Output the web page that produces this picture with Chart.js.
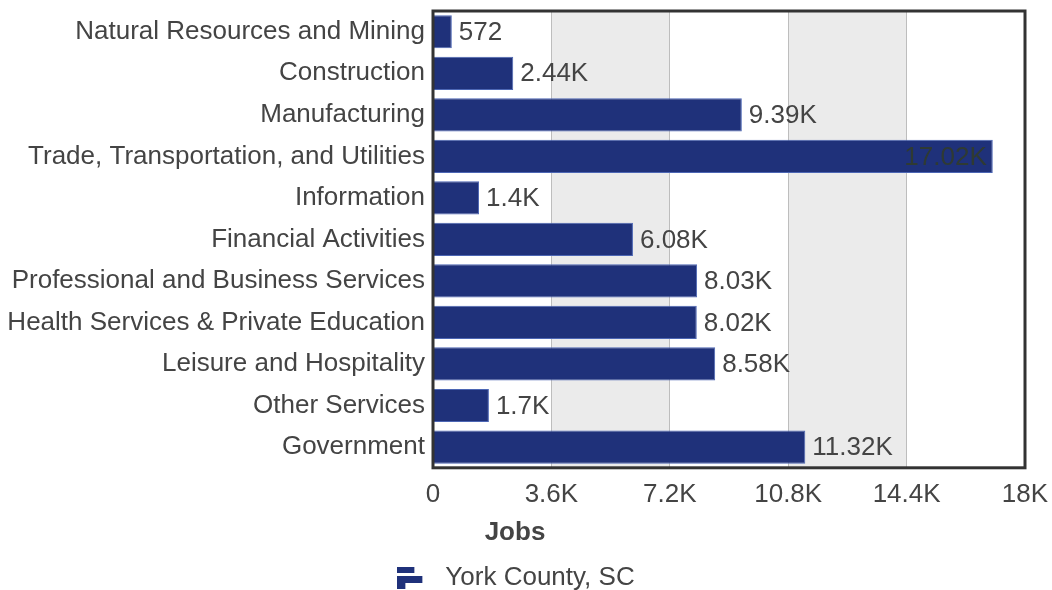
<!DOCTYPE html>
<html>
<head>
<meta charset="utf-8">
<script src="https://cdn.jsdelivr.net/npm/chart.js@4"></script>
<style>
  html, body { margin: 0; padding: 0; background: #fff; }
  #wrap { width: 1052px; height: 590px; position: relative; }
</style>
</head>
<body>
<div id="wrap"><canvas id="chart"></canvas></div>
<script>
// Jobs by industry, York County, SC
const industries = [
  'Natural Resources and Mining',
  'Construction',
  'Manufacturing',
  'Trade, Transportation, and Utilities',
  'Information',
  'Financial Activities',
  'Professional and Business Services',
  'Health Services & Private Education',
  'Leisure and Hospitality',
  'Other Services',
  'Government'
];
const jobs = [572, 2440, 9390, 17020, 1400, 6080, 8030, 8020, 8580, 1700, 11320];
const seriesName = 'York County, SC';
const axisTitle = 'Jobs';
const xMax = 18000;
const xStep = 3600;

const FONT = "'Liberation Sans', Arial, Helvetica, sans-serif";
const TEXT = '#444';
const BAR = '#1f317a';

function fmtK(v) {
  if (v < 1000) return String(v);
  return parseFloat((v / 1000).toFixed(2)) + 'K';
}

// small "bar chart" glyph for the legend (drawn off-centre on purpose)
function legendIcon() {
  const c = document.createElement('canvas');
  c.width = 33; c.height = 22;
  const g = c.getContext('2d');
  g.fillStyle = BAR;
  g.fillRect(0, 0, 17, 6);
  g.fillRect(0, 9, 25, 7);
  g.fillRect(0, 16, 8, 6);
  return c;
}

// alternate grey bands behind the grid
const bandsPlugin = {
  id: 'bands',
  beforeDraw(chart) {
    const { ctx, chartArea: a, scales: { x } } = chart;
    ctx.save();
    ctx.fillStyle = '#ebebeb';
    for (let v = xStep; v < xMax; v += xStep * 2) {
      const x0 = x.getPixelForValue(v);
      const x1 = x.getPixelForValue(Math.min(v + xStep, xMax));
      ctx.fillRect(x0, a.top, x1 - x0, a.bottom - a.top);
    }
    ctx.restore();
  }
};

// value labels at the end of each bar + the dark frame
const labelsPlugin = {
  id: 'valueLabels',
  afterDatasetsDraw(chart) {
    const { ctx, chartArea: a } = chart;
    const meta = chart.getDatasetMeta(0);
    ctx.save();
    ctx.font = '26px ' + FONT;
    ctx.textBaseline = 'middle';
    meta.data.forEach((bar, i) => {
      const txt = fmtK(jobs[i]);
      const w = ctx.measureText(txt).width;
      if (bar.x + 7 + w > a.right - 4) {
        ctx.textAlign = 'right';
        ctx.fillStyle = '#2f3a33';
        ctx.fillText(txt, bar.x - 6, bar.y + 1);
      } else {
        ctx.textAlign = 'left';
        ctx.fillStyle = TEXT;
        ctx.fillText(txt, bar.x + 7, bar.y + 1);
      }
    });
    ctx.strokeStyle = '#333';
    ctx.lineWidth = 3;
    ctx.strokeRect(a.left, a.top, a.right - a.left, a.bottom - a.top);
    ctx.restore();
  }
};

new Chart(document.getElementById('chart'), {
  type: 'bar',
  data: {
    labels: industries,
    datasets: [{
      label: seriesName,
      data: jobs,
      backgroundColor: BAR,
      borderColor: '#4c66b4',
      borderWidth: 1,
      barPercentage: 0.8,
      categoryPercentage: 1
    }]
  },
  options: {
    indexAxis: 'y',
    responsive: true,
    maintainAspectRatio: false,
    animation: false,
    layout: { padding: { left: 0, right: 22, top: 11, bottom: -11 } },
    scales: {
      x: {
        min: 0,
        max: xMax,
        ticks: {
          stepSize: xStep,
          color: TEXT,
          font: { family: FONT, size: 26 },
          padding: 11,
          maxRotation: 0,
          callback: v => v === 0 ? '0' : parseFloat((v / 1000).toFixed(1)) + 'K'
        },
        grid: { color: '#bdbdbd', lineWidth: 1, drawTicks: false },
        border: { display: false },
        afterFit: s => { s.height = 44; s.paddingRight = 27; }
      },
      y: {
        ticks: {
          color: TEXT,
          font: { family: FONT, size: 26 },
          padding: 8,
          autoSkip: false
        },
        grid: { display: false, drawTicks: false },
        border: { display: false },
        afterFit: s => { s.width = 433; s.paddingTop = 0; s.paddingBottom = 0; }
      }
    },
    plugins: {
      tooltip: { enabled: false },
      title: {
        display: true,
        text: axisTitle,
        position: 'bottom',
        weight: 500,
        color: TEXT,
        font: { family: FONT, size: 26, weight: 'bold', lineHeight: 1.2 },
        padding: { top: 5, bottom: 17 }
      },
      legend: {
        position: 'bottom',
        labels: {
          color: TEXT,
          font: { family: FONT, size: 26, lineHeight: 1 },
          usePointStyle: true,
          pointStyleWidth: 37,
          padding: 0,
          generateLabels: chart => [{
            text: seriesName,
            pointStyle: legendIcon(),
            fillStyle: BAR,
            strokeStyle: BAR,
            lineWidth: 0,
            hidden: false,
            datasetIndex: 0,
            fontColor: TEXT
          }]
        }
      }
    }
  },
  plugins: [bandsPlugin, labelsPlugin]
});
</script>
</body>
</html>
